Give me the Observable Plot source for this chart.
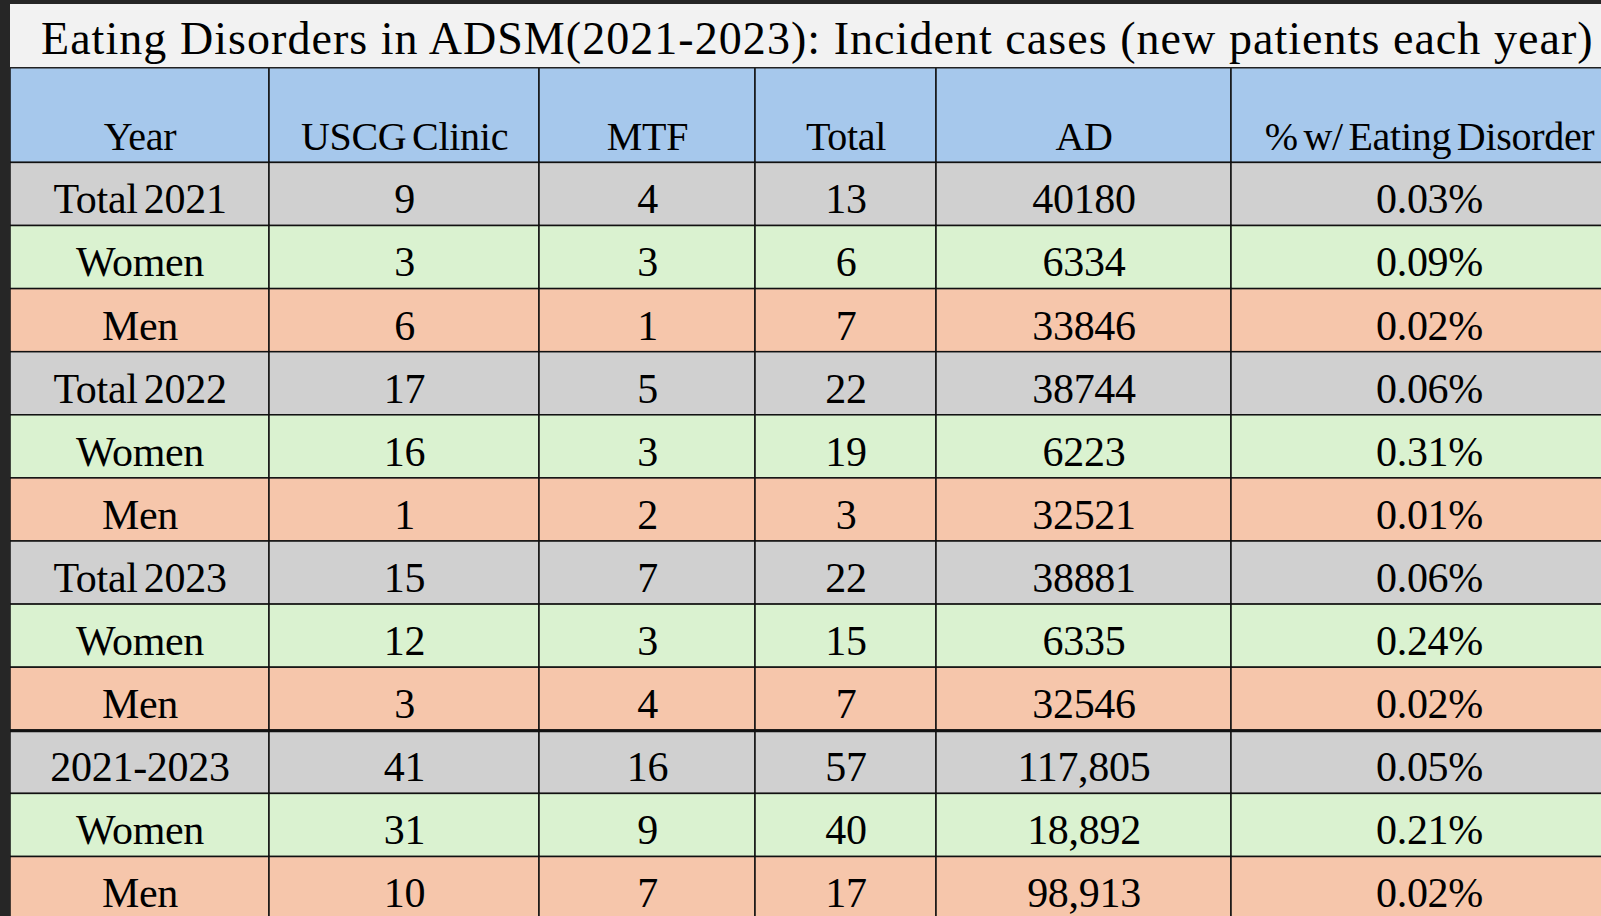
<!DOCTYPE html>
<html>
<head>
<meta charset="utf-8">
<script src="https://cdn.jsdelivr.net/npm/d3@7"></script>
<script src="https://cdn.jsdelivr.net/npm/@observablehq/plot@0.6"></script>
<style>
  html, body { margin: 0; padding: 0; background: #262626; overflow: hidden; width: 1601px; height: 916px; }
  #wrap { position: absolute; left: 10px; top: 4px; width: 1591px; }
  #title { height: 63px; line-height: 69px; overflow: hidden; background: #f2f2f2; font-family: "Liberation Serif", serif; font-size: 46px; letter-spacing: 1.05px; color: #000; padding-left: 31px; white-space: nowrap; box-sizing: border-box; }
  #chart svg { display: block; overflow: hidden; }
</style>
</head>
<body>
<div id="wrap">
  <div id="title">Eating Disorders in ADSM(2021-2023): Incident cases (new patients each year)</div>
  <div id="chart"></div>
</div>
<script>
// ---- data ----
const columns = ["Year", "USCG Clinic", "MTF", "Total", "AD", "% w/ Eating Disorder"];
const yearLabels = ["Total 2021", "Women", "Men", "Total 2022", "Women", "Men", "Total 2023", "Women", "Men", "2021-2023", "Women", "Men"];
const rowKinds = ["total", "women", "men", "total", "women", "men", "total", "women", "men", "total", "women", "men"];
const uscgClinic = [9, 3, 6, 17, 16, 1, 15, 12, 3, 41, 31, 10];
const mtf = [4, 3, 1, 5, 3, 2, 7, 3, 4, 16, 9, 7];
const totals = [13, 6, 7, 22, 19, 3, 22, 15, 7, 57, 40, 17];
const adCounts = ["40180", "6334", "33846", "38744", "6223", "32521", "38881", "6335", "32546", "117,805", "18,892", "98,913"];
const pctWithED = ["0.03%", "0.09%", "0.02%", "0.06%", "0.31%", "0.01%", "0.06%", "0.24%", "0.02%", "0.05%", "0.21%", "0.02%"];

// ---- layout (not data) ----
const colEdges = [0, 259, 529, 745, 926, 1221, 1617];
const W = 1591, H = 849;
const rowPx = 63.1, headerPx = 95.4;
const headerTop = -headerPx / rowPx;
const kindColors = {header: "#a6c8ec", total: "#d0d0d0", women: "#daf2d0", men: "#f6c6ab"};

const columnValues = [yearLabels, uscgClinic, mtf, totals, adCounts, pctWithED];

const cells = [];
columns.forEach((name, c) => {
  cells.push({c, y1: headerTop, y2: 0, kind: "header", text: name, base: -0.197});
});
yearLabels.forEach((_, r) => {
  columns.forEach((_, c) => {
    cells.push({c, y1: r, y2: r + 1, kind: rowKinds[r], text: String(columnValues[c][r]), base: r + 0.80});
  });
});

const chart = Plot.plot({
  width: W,
  height: H,
  margin: 0,
  style: {fontFamily: "'Liberation Serif', serif", background: "transparent", color: "#000", wordSpacing: "-4px"},
  x: {type: "linear", domain: [0, W], range: [0, W], axis: null},
  y: {type: "linear", domain: [headerTop, (H - headerPx) / rowPx], range: [0, H], axis: null},
  color: {domain: Object.keys(kindColors), range: Object.values(kindColors)},
  marks: [
    Plot.rect(cells, {
      x1: d => colEdges[d.c], x2: d => colEdges[d.c + 1],
      y1: "y1", y2: "y2",
      fill: "kind", stroke: "#111", strokeWidth: 1.5
    }),
    Plot.ruleY([9], {stroke: "#111", strokeWidth: 3}),
    Plot.ruleY([headerTop], {stroke: "#222", strokeWidth: 2}),
    Plot.text(cells.filter(d => d.kind === "header"), {
      x: d => (colEdges[d.c] + colEdges[d.c + 1]) / 2, y: "base", text: "text",
      lineAnchor: "bottom", textAnchor: "middle", fontSize: 40, fill: "#000"
    }),
    Plot.text(cells.filter(d => d.kind !== "header"), {
      x: d => (colEdges[d.c] + colEdges[d.c + 1]) / 2, y: "base", text: "text",
      lineAnchor: "bottom", textAnchor: "middle", fontSize: 42, fill: "#000"
    })
  ]
});
d3.select(chart).selectAll("text").filter(function () { return this.textContent.length > 0; })
  .style("letter-spacing", "-0.3px");
document.getElementById("chart").appendChild(chart);
</script>
</body>
</html>
